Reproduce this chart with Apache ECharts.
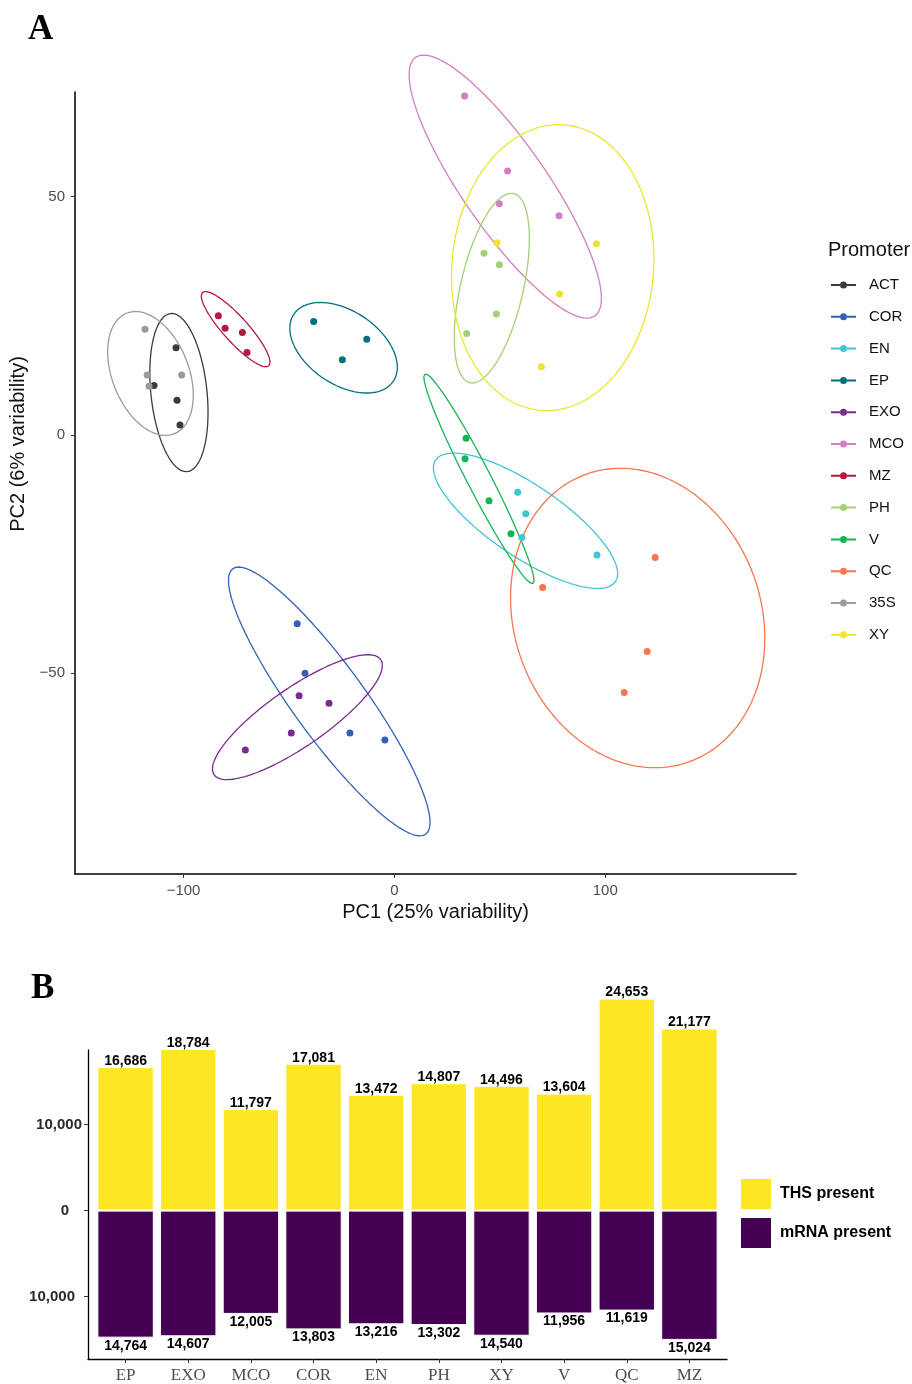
<!DOCTYPE html>
<html><head><meta charset="utf-8">
<script src="https://cdn.jsdelivr.net/npm/echarts@6/dist/echarts.min.js"></script>
<style>html,body{margin:0;padding:0;background:#fff}#c{width:912px;height:1384px}</style>
</head><body><div id="c"></div>
<script>
// ---------- Panel A: PCA ----------
const promoters = ['ACT','COR','EN','EP','EXO','MCO','MZ','PH','V','QC','35S','XY'];
const ptsACT = [[-103.6,18.3],[-114.0,10.4],[-103.1,7.3],[-101.7,2.1]];
const ptsCOR = [[-46.1,-39.6],[-42.4,-50.0],[-21.1,-62.5],[-4.5,-64.0]];
const ptsEN  = [[58.5,-12.0],[62.3,-16.5],[60.5,-21.5],[96.1,-25.2]];
const ptsEP  = [[-38.3,23.8],[-13.1,20.1],[-24.7,15.8]];
const ptsEXO = [[-45.2,-54.7],[-31.0,-56.3],[-48.9,-62.5],[-70.7,-66.1]];
const ptsMCO = [[33.3,71.1],[53.7,55.4],[49.8,48.5],[78.1,46.0]];
const ptsMZ  = [[-83.5,25.0],[-80.3,22.4],[-72.1,21.5],[-69.9,17.3]];
const ptsPH  = [[42.5,38.1],[49.8,35.7],[48.4,25.4],[34.3,21.3]];
const ptsV   = [[34.0,-0.7],[33.5,-5.0],[44.9,-13.8],[55.3,-20.7]];
const ptsQC  = [[123.7,-25.7],[70.3,-32.0],[119.9,-45.4],[109.0,-54.0]];
const pts35S = [[-118.3,22.2],[-117.3,12.6],[-100.9,12.6],[-116.4,10.2]];
const ptsXY  = [[48.7,40.3],[95.8,40.1],[78.4,29.6],[69.7,14.3]];
const promoterPoints = [ptsACT,ptsCOR,ptsEN,ptsEP,ptsEXO,ptsMCO,ptsMZ,ptsPH,ptsV,ptsQC,pts35S,ptsXY];
// 95% ellipses (centre, half-extent in x and y, correlation)
const ellipseCx  = [-102.2,-30.9, 62.2,-24.1,-46.0, 52.6,-75.3, 46.2, 40.1, 115.4,-115.7, 75.1];
const ellipseCy  = [   8.9,-55.9,-18.0, 18.3,-59.2, 52.1, 22.2, 30.8, -9.2, -38.4,  12.9, 35.1];
const ellipseWx  = [  13.8, 47.8, 43.7, 25.5, 40.3, 45.6, 16.3, 17.8, 26.1,  60.3,  20.3, 48.0];
const ellipseWy  = [  16.6, 28.2, 14.2,  9.5, 13.1, 27.6,  7.9, 19.9, 22.0,  31.4,  13.0, 30.0];
const ellipseRho = [ -0.25,-0.90,-0.78,-0.43, 0.83,-0.85,-0.88, 0.52,-0.97,-0.135,-0.35, 0.06];
const pcXTicks = [-100, 0, 100];
const pcYTicks = [-50, 0, 50];

// ---------- Panel B: counts ----------
const categories = ['EP','EXO','MCO','COR','EN','PH','XY','V','QC','MZ'];
const thsPresent  = [16686,18784,11797,17081,13472,14807,14496,13604,24653,21177];
const mrnaPresent = [14764,14607,12005,13803,13216,13302,14540,11956,11619,15024];
const countTicks = [-10000, 0, 10000];

// ---------- styles ----------
const promoterColors = ['#3b3b3b','#3461b5','#42c4d4','#00707d','#7b2b8f','#d17fc2','#b4193e','#a3d175','#17b455','#f8764f','#9a9a9a','#ece52d'];
const legendIcon = 'path://M0,2.5H9V4.5H0Z M16,2.5H25V4.5H16Z M16,3.5A3.5,3.5,0,1,1,9,3.5A3.5,3.5,0,1,1,16,3.5Z';
const fmt = v => String(Math.round(Math.abs(v))).replace(/\B(?=(\d{3})+(?!\d))/g, ',');
const minusFmt = v => (v < 0 ? '\u2212' : '') + Math.abs(v);

function ellipsePath(i) {
  const phi = Math.acos(ellipseRho[i]);
  const out = [];
  for (let k = 0; k <= 180; k++) {
    const t = 2 * Math.PI * k / 180;
    out.push([ellipseCx[i] + ellipseWx[i] * Math.cos(t), ellipseCy[i] + ellipseWy[i] * Math.cos(t - phi)]);
  }
  return out;
}

const series = [];
promoters.forEach((p, i) => {
  series.push({
    type: 'line', name: p, xAxisIndex: 0, yAxisIndex: 0, data: ellipsePath(i),
    showSymbol: false, symbol: 'none', clip: false, silent: true, z: 2,
    lineStyle: { color: promoterColors[i], width: 1.3 }, itemStyle: { color: promoterColors[i] }
  });
});
promoters.forEach((p, i) => {
  series.push({
    type: 'scatter', name: p, xAxisIndex: 0, yAxisIndex: 0, data: promoterPoints[i],
    symbolSize: 7, z: 3, itemStyle: { color: promoterColors[i], opacity: 1 }
  });
});
series.push({
  type: 'bar', name: 'THS present', xAxisIndex: 1, yAxisIndex: 1, stack: 'n',
  data: thsPresent.map((v, i) => [i, v]), barWidth: 56.4, clip: false,
  itemStyle: { color: '#fde725', borderColor: '#fff', borderWidth: 1 },
  label: { show: true, position: 'top', distance: -1, formatter: p => fmt(p.value[1]),
           fontFamily: 'Liberation Sans', fontWeight: 'bold', fontSize: 14, color: '#000' }
});
series.push({
  type: 'bar', name: 'mRNA present', xAxisIndex: 1, yAxisIndex: 1, stack: 'n',
  data: mrnaPresent.map((v, i) => [i, -v]), barWidth: 56.4, clip: false,
  itemStyle: { color: '#440154', borderColor: '#fff', borderWidth: 1 },
  label: { show: true, position: 'bottom', distance: 1, formatter: p => fmt(p.value[1]),
           fontFamily: 'Liberation Sans', fontWeight: 'bold', fontSize: 14, color: '#000' }
});

const axisA = {
  axisLine: { show: true, onZero: false, lineStyle: { color: '#000', width: 1.5 } },
  splitLine: { show: false },
};
const yRich = {
  p: { fontFamily: 'Liberation Sans', fontWeight: 'bold', fontSize: 15, color: '#2a2a2a', padding: [0,0,0,0] },
  z: { fontFamily: 'Liberation Sans', fontWeight: 'bold', fontSize: 15, color: '#2a2a2a', padding: [0,13,0,0] },
  n: { fontFamily: 'Liberation Sans', fontWeight: 'bold', fontSize: 15, color: '#2a2a2a', padding: [0,7,0,0] }
};

const option = {
  animation: false,
  backgroundColor: '#fff',
  title: [
    { text: 'A', left: 28, top: 12, padding: 0, textStyle: { fontFamily: 'Liberation Serif', fontWeight: 'bold', fontSize: 35, color: '#000' } },
    { text: 'B', left: 31, top: 971, padding: 0, textStyle: { fontFamily: 'Liberation Serif', fontWeight: 'bold', fontSize: 35, color: '#000' } },
    { text: 'Promoter', left: 828, top: 240, padding: 0, textStyle: { fontFamily: 'Liberation Sans', fontWeight: 'normal', fontSize: 20, color: '#111' } }
  ],
  grid: [
    { left: 75, top: 92, width: 721, height: 782 },
    { left: 88, top: 1050, width: 639, height: 313 }
  ],
  xAxis: [
    Object.assign({ gridIndex: 0, type: 'value', min: -151.5, max: 190.5,
      axisTick: { show: true, length: 4, customValues: pcXTicks, lineStyle: { color: '#333' } },
      axisLabel: { customValues: pcXTicks, formatter: minusFmt, color: '#4d4d4d', fontSize: 15, fontFamily: 'Liberation Sans', margin: 9 },
      name: 'PC1 (25% variability)', nameLocation: 'middle', nameGap: 28,
      nameTextStyle: { fontSize: 20, color: '#111', fontFamily: 'Liberation Sans' } }, axisA),
    { gridIndex: 1, type: 'value', min: -0.6, max: 9.6,
      axisLine: { show: true, onZero: false, lineStyle: { color: '#000', width: 1.3 } },
      axisTick: { show: true, length: 4, customValues: categories.map((c, i) => i), lineStyle: { color: '#333' } },
      axisLabel: { customValues: categories.map((c, i) => i), formatter: v => categories[Math.round(v)],
                   color: '#4d4d4d', fontSize: 17, fontFamily: 'Liberation Serif', margin: 8 },
      splitLine: { show: false } }
  ],
  yAxis: [
    Object.assign({ gridIndex: 0, type: 'value', min: -92.1, max: 71.95,
      axisTick: { show: true, length: 4, customValues: pcYTicks, lineStyle: { color: '#333' } },
      axisLabel: { customValues: pcYTicks, formatter: minusFmt, color: '#4d4d4d', fontSize: 15, fontFamily: 'Liberation Sans', margin: 10 },
      name: 'PC2 (6% variability)', nameLocation: 'middle', nameGap: 40,
      nameTextStyle: { fontSize: 20, color: '#111', fontFamily: 'Liberation Sans', padding: [0, 0, 0, 78] } }, axisA),
    { gridIndex: 1, type: 'value', min: -17246, max: 18669,
      axisLine: { show: true, onZero: false, lineStyle: { color: '#000', width: 1.3 } },
      axisTick: { show: true, length: 4, customValues: countTicks, lineStyle: { color: '#333' } },
      axisLabel: { customValues: countTicks, margin: 6,
                   formatter: v => v > 0 ? '{p|' + fmt(v) + '}' : (v === 0 ? '{z|0}' : '{n|' + fmt(v) + '}'),
                   rich: yRich },
      splitLine: { show: false } }
  ],
  legend: [
    { orient: 'vertical', left: 831, top: 276, padding: 0, itemWidth: 25, itemHeight: 7, itemGap: 13.8,
      data: promoters.map(p => ({ name: p, icon: legendIcon })),
      textStyle: { fontFamily: 'Liberation Sans', fontSize: 15, color: '#111', lineHeight: 18, padding: [0,0,0,8] },
      selectedMode: false },
    { orient: 'vertical', left: 739, top: 1177, padding: 0, itemWidth: 32, itemHeight: 32, itemGap: 5,
      data: [{ name: 'THS present', icon: 'rect' }, { name: 'mRNA present', icon: 'rect' }],
      textStyle: { fontFamily: 'Liberation Sans', fontWeight: 'bold', fontSize: 16, color: '#000', padding: [0,0,0,3] },
      selectedMode: false }
  ],
  series: series
};
const chart = echarts.init(document.getElementById('c'), null, { renderer: 'canvas' });
chart.setOption(option);
</script></body></html>
